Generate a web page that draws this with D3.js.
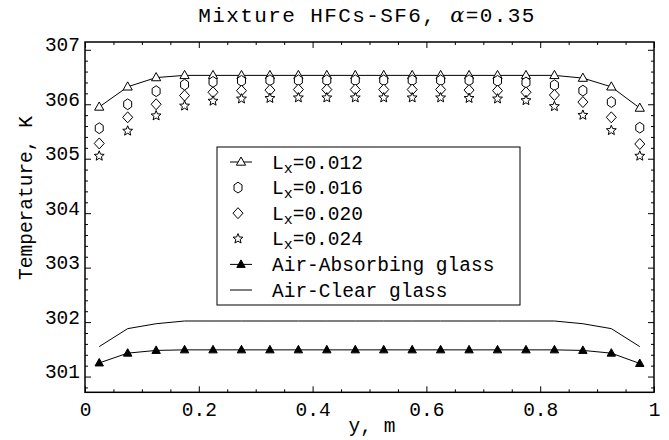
<!DOCTYPE html>
<html>
<head>
<meta charset="utf-8">
<script src="https://cdn.jsdelivr.net/npm/d3@7"></script>
<style>
  body { margin: 0; background: #fff; }
  svg { display: block; }
  text { font-family: "Liberation Mono", "DejaVu Sans Mono", monospace; fill: #000; }
</style>
</head>
<body>
<svg id="chart" width="669" height="440"></svg>
<script>
// positions along the wall, y (m)
const yPos = [0.025, 0.075, 0.125, 0.175, 0.225, 0.275, 0.325, 0.375, 0.425, 0.475,
              0.525, 0.575, 0.625, 0.675, 0.725, 0.775, 0.825, 0.875, 0.925, 0.975];

// temperature, K
const lx012 = [305.95, 306.32, 306.49, 306.53, 306.53, 306.53, 306.53, 306.53, 306.53, 306.53,
               306.53, 306.53, 306.53, 306.53, 306.53, 306.53, 306.53, 306.48, 306.32, 305.93];
const lx016 = [305.56, 306.00, 306.24, 306.36, 306.41, 306.43, 306.44, 306.44, 306.44, 306.44,
               306.44, 306.44, 306.44, 306.44, 306.43, 306.40, 306.35, 306.25, 306.04, 305.57];
const lx020 = [305.28, 305.76, 306.00, 306.16, 306.22, 306.25, 306.26, 306.27, 306.27, 306.27,
               306.27, 306.27, 306.27, 306.26, 306.25, 306.22, 306.17, 306.04, 305.76, 305.27];
const lx024 = [305.05, 305.51, 305.79, 305.97, 306.06, 306.10, 306.11, 306.12, 306.12, 306.12,
               306.12, 306.12, 306.12, 306.11, 306.10, 306.07, 305.96, 305.80, 305.52, 305.05];
const airAbsorbing = [301.25, 301.43, 301.48, 301.49, 301.49, 301.49, 301.49, 301.49, 301.49, 301.49,
                      301.49, 301.49, 301.49, 301.49, 301.49, 301.49, 301.49, 301.48, 301.43, 301.24];
const airClear = [301.55, 301.88, 301.97, 302.02, 302.02, 302.02, 302.02, 302.02, 302.02, 302.02,
                  302.02, 302.02, 302.02, 302.02, 302.02, 302.02, 302.02, 301.97, 301.88, 301.55];

const xTicks = [0, 0.2, 0.4, 0.6, 0.8, 1];
const xTickLabels = ['0', '0.2', '0.4', '0.6', '0.8', '1'];
const yTicks = [301, 302, 303, 304, 305, 306, 307];

const legendLabels = ['0.012', '0.016', '0.020', '0.024'];

const width = 669, height = 440;
const margin = {top: 42, right: 15, bottom: 48, left: 85};

const svg = d3.select('#chart');

const x = d3.scaleLinear().domain([0, 1]).range([margin.left, width - margin.right]);
const y = d3.scaleLinear().domain([300.711, 307.143]).range([height - margin.bottom + 0.3, margin.top]);

// marker shapes
function markerPath(kind) {
  if (kind === 'triangle') return 'M0,-5L4.6,3.2L-4.6,3.2Z';
  if (kind === 'filledTriangle') return 'M0,-4.5L4.2,3L-4.2,3Z';
  if (kind === 'diamond') return 'M0,-5.5L5,0L0,5.5L-5,0Z';
  if (kind === 'hexagon') {
    const pts = d3.range(6).map(i => {
      const a = (-90 + i * 60) * Math.PI / 180;
      return [4.6 * Math.cos(a), 5.4 * Math.sin(a)];
    });
    return 'M' + pts.map(p => p.join(',')).join('L') + 'Z';
  }
  if (kind === 'star') {
    const pts = d3.range(10).map(i => {
      const a = (-90 + i * 36) * Math.PI / 180;
      const r = i % 2 === 0 ? 5.2 : 2.3;
      return [r * Math.cos(a), r * Math.sin(a)];
    });
    return 'M' + pts.map(p => p.join(',')).join('L') + 'Z';
  }
}

const series = [
  {name: 'lx012', values: lx012, marker: 'triangle', line: true},
  {name: 'lx016', values: lx016, marker: 'hexagon', line: false},
  {name: 'lx020', values: lx020, marker: 'diamond', line: false},
  {name: 'lx024', values: lx024, marker: 'star', line: false},
  {name: 'absorbing', values: airAbsorbing, marker: 'filledTriangle', line: true},
  {name: 'clear', values: airClear, marker: null, line: true}
];

const line = d3.line().x(d => x(d[0])).y(d => y(d[1]));

// Axes frame with inward ticks
function styleAxis(g) {
  g.select('.domain').remove();
  g.selectAll('line').attr('stroke', '#000').attr('stroke-width', 1);
}

const xMinor = d3.range(0, 1.0001, 0.05).filter(v => Math.abs(v * 5 - Math.round(v * 5)) > 1e-6);
const yMinor = d3.range(300.8, 307.1, 0.2).filter(v => Math.abs(v - Math.round(v)) > 1e-6);

// bottom
svg.append('g').attr('transform', `translate(0,${y.range()[0]})`)
  .call(d3.axisBottom(x).tickValues(xTicks).tickSize(-6).tickPadding(10)
    .tickFormat((d, i) => xTickLabels[i]))
  .call(styleAxis)
  .call(g => g.selectAll('text').attr('font-size', 19.5).attr('font-family', '"Liberation Mono", monospace'));
svg.append('g').attr('transform', `translate(0,${y.range()[0]})`)
  .call(d3.axisBottom(x).tickValues(xMinor).tickSize(-3).tickFormat(''))
  .call(styleAxis);
// top
svg.append('g').attr('transform', `translate(0,${margin.top})`)
  .call(d3.axisTop(x).tickValues(xTicks).tickSize(-6).tickFormat(''))
  .call(styleAxis);
svg.append('g').attr('transform', `translate(0,${margin.top})`)
  .call(d3.axisTop(x).tickValues(xMinor).tickSize(-3).tickFormat(''))
  .call(styleAxis);
// left
svg.append('g').attr('transform', `translate(${margin.left},0)`)
  .call(d3.axisLeft(y).tickValues(yTicks).tickSize(-6).tickPadding(5).tickFormat(d3.format('d')))
  .call(styleAxis)
  .call(g => g.selectAll('text').attr('font-size', 19.5).attr('dy', '0.05em')
    .attr('font-family', '"Liberation Mono", monospace'));
svg.append('g').attr('transform', `translate(${margin.left},0)`)
  .call(d3.axisLeft(y).tickValues(yMinor).tickSize(-3).tickFormat(''))
  .call(styleAxis);
// right
svg.append('g').attr('transform', `translate(${width - margin.right},0)`)
  .call(d3.axisRight(y).tickValues(yTicks).tickSize(-6).tickFormat(''))
  .call(styleAxis);
svg.append('g').attr('transform', `translate(${width - margin.right},0)`)
  .call(d3.axisRight(y).tickValues(yMinor).tickSize(-3).tickFormat(''))
  .call(styleAxis);

svg.append('rect')
  .attr('x', x.range()[0]).attr('y', y.range()[1])
  .attr('width', x.range()[1] - x.range()[0])
  .attr('height', y.range()[0] - y.range()[1])
  .attr('fill', 'none').attr('stroke', '#000').attr('stroke-width', 1.5);

// data
series.forEach(s => {
  const pts = yPos.map((p, i) => [p, s.values[i]]);
  if (s.line) {
    svg.append('path').datum(pts)
      .attr('class', 'line-' + s.name)
      .attr('fill', 'none').attr('stroke', '#000').attr('stroke-width', 1)
      .attr('d', line);
  }
  if (s.marker) {
    svg.selectAll('path.m-' + s.name).data(pts).enter()
      .append('path')
      .attr('class', 'm-' + s.name)
      .attr('transform', d => `translate(${x(d[0])},${y(d[1])})`)
      .attr('d', markerPath(s.marker))
      .attr('fill', s.marker === 'filledTriangle' ? '#000' : '#fff')
      .attr('stroke', '#000').attr('stroke-width', 1);
  }
});

// Legend
const legend = svg.append('g').attr('transform', 'translate(217,147)');
legend.append('rect')
  .attr('width', 303).attr('height', 158)
  .attr('fill', '#fff').attr('stroke', '#000').attr('stroke-width', 1);

const rowH = 25.6;
const legendRows = [
  {marker: 'triangle', line: true, label: 'Lx', value: legendLabels[0]},
  {marker: 'hexagon', line: false, label: 'Lx', value: legendLabels[1]},
  {marker: 'diamond', line: false, label: 'Lx', value: legendLabels[2]},
  {marker: 'star', line: false, label: 'Lx', value: legendLabels[3]},
  {marker: 'filledTriangle', line: true, label: 'Air-Absorbing glass'},
  {marker: null, line: true, label: 'Air-Clear glass'}
];

legendRows.forEach((r, i) => {
  const g = legend.append('g').attr('transform', `translate(0,${15 + i * rowH})`);
  if (r.line) {
    g.append('line').attr('x1', 13).attr('x2', 35).attr('y1', 0).attr('y2', 0)
      .attr('stroke', '#000').attr('stroke-width', 1);
  }
  if (r.marker) {
    g.append('path').attr('transform', `translate(${r.line ? 24 : 21},0)`)
      .attr('d', markerPath(r.marker))
      .attr('fill', r.marker === 'filledTriangle' ? '#000' : '#fff')
      .attr('stroke', '#000').attr('stroke-width', 1);
  }
  const t = g.append('text').attr('x', 55).attr('y', 6.5).attr('font-size', 19.5);
  if (r.value) {
    t.append('tspan').text('L');
    t.append('tspan').attr('font-size', 15).attr('dy', 4).text('x');
    t.append('tspan').attr('dy', -4).text('=' + r.value);
  } else {
    t.text(r.label);
  }
});

// Titles
const title = svg.append('text')
  .attr('x', 367).attr('y', 22)
  .attr('text-anchor', 'middle')
  .attr('font-size', 21)
  .attr('letter-spacing', 1.4);
title.append('tspan').text('Mixture HFCs-SF6, ');
title.append('tspan').attr('font-family', '"DejaVu Serif", serif').attr('font-style', 'italic').text('\u03b1');
title.append('tspan').text('=0.35');

svg.append('text')
  .attr('x', 372).attr('y', 432)
  .attr('text-anchor', 'middle')
  .attr('font-size', 19.5)
  .text('y, m');

svg.append('text')
  .attr('transform', 'translate(32,198) rotate(-90)')
  .attr('text-anchor', 'middle')
  .attr('font-size', 19.5)
  .text('Temperature, K');
</script>
</body>
</html>
